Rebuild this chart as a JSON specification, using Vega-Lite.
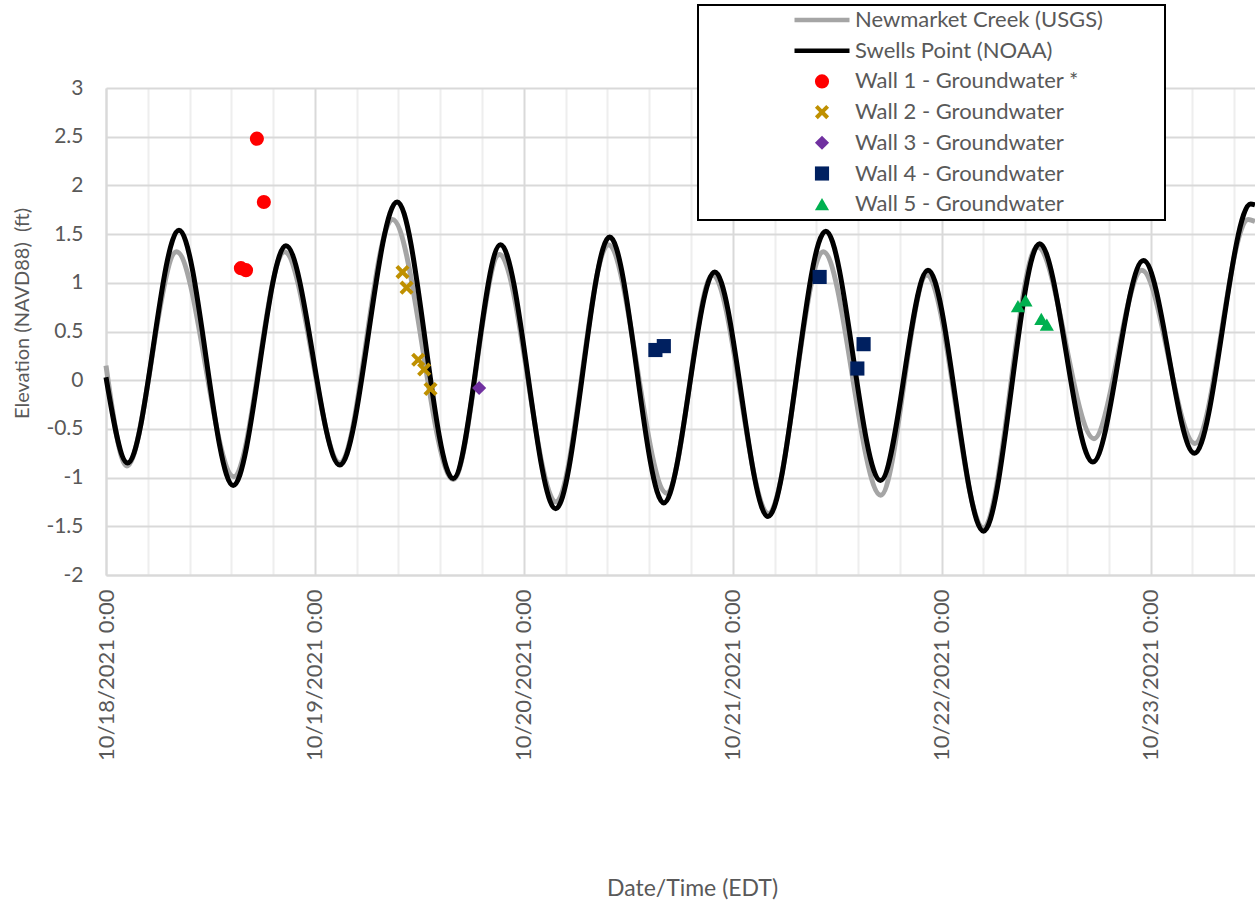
{
  "$schema": "https://vega.github.io/schema/vega-lite/v6.json",
  "width": 1149,
  "height": 487,
  "autosize": {"type": "none"},
  "padding": {"left": 106, "top": 88, "right": 0, "bottom": 330},
  "background": "white",
  "config": {
    "view": {"stroke": null},
    "font": "Lato",
    "axis": {"labelFont": "Lato", "titleFont": "Lato", "labelColor": "#595959", "titleColor": "#595959", "labelFontSize": 21, "titleFontSize": 23, "titleFontWeight": "normal"},
    "legend": {"labelFont": "Lato", "labelFontSize": 22, "labelColor": "#595959"}
  },
  "datasets": {
    "tide": [
      {"series": "Newmarket Creek (USGS)", "t": "2021-10-18T00:00Z", "v": 0.15},
      {"series": "Newmarket Creek (USGS)", "t": "2021-10-18T02:24Z", "v": -0.88},
      {"series": "Newmarket Creek (USGS)", "t": "2021-10-18T08:06Z", "v": 1.32},
      {"series": "Newmarket Creek (USGS)", "t": "2021-10-18T14:42Z", "v": -0.99},
      {"series": "Newmarket Creek (USGS)", "t": "2021-10-18T20:30Z", "v": 1.32},
      {"series": "Newmarket Creek (USGS)", "t": "2021-10-19T02:54Z", "v": -0.85},
      {"series": "Newmarket Creek (USGS)", "t": "2021-10-19T08:54Z", "v": 1.65},
      {"series": "Newmarket Creek (USGS)", "t": "2021-10-19T15:54Z", "v": -1.02},
      {"series": "Newmarket Creek (USGS)", "t": "2021-10-19T21:12Z", "v": 1.29},
      {"series": "Newmarket Creek (USGS)", "t": "2021-10-20T03:42Z", "v": -1.25},
      {"series": "Newmarket Creek (USGS)", "t": "2021-10-20T09:42Z", "v": 1.39},
      {"series": "Newmarket Creek (USGS)", "t": "2021-10-20T16:24Z", "v": -1.16},
      {"series": "Newmarket Creek (USGS)", "t": "2021-10-20T21:42Z", "v": 1.08},
      {"series": "Newmarket Creek (USGS)", "t": "2021-10-21T04:06Z", "v": -1.37},
      {"series": "Newmarket Creek (USGS)", "t": "2021-10-21T10:24Z", "v": 1.32},
      {"series": "Newmarket Creek (USGS)", "t": "2021-10-21T17:00Z", "v": -1.18},
      {"series": "Newmarket Creek (USGS)", "t": "2021-10-21T22:18Z", "v": 1.08},
      {"series": "Newmarket Creek (USGS)", "t": "2021-10-22T04:48Z", "v": -1.52},
      {"series": "Newmarket Creek (USGS)", "t": "2021-10-22T11:00Z", "v": 1.37},
      {"series": "Newmarket Creek (USGS)", "t": "2021-10-22T17:30Z", "v": -0.6},
      {"series": "Newmarket Creek (USGS)", "t": "2021-10-22T23:00Z", "v": 1.13},
      {"series": "Newmarket Creek (USGS)", "t": "2021-10-23T05:06Z", "v": -0.65},
      {"series": "Newmarket Creek (USGS)", "t": "2021-10-23T11:12Z", "v": 1.65},
      {"series": "Newmarket Creek (USGS)", "t": "2021-10-23T12:00Z", "v": 1.63},
      {"series": "Swells Point (NOAA)", "t": "2021-10-18T00:00Z", "v": 0.03},
      {"series": "Swells Point (NOAA)", "t": "2021-10-18T02:29Z", "v": -0.85},
      {"series": "Swells Point (NOAA)", "t": "2021-10-18T08:23Z", "v": 1.54},
      {"series": "Swells Point (NOAA)", "t": "2021-10-18T14:37Z", "v": -1.08},
      {"series": "Swells Point (NOAA)", "t": "2021-10-18T20:40Z", "v": 1.38},
      {"series": "Swells Point (NOAA)", "t": "2021-10-19T02:52Z", "v": -0.87},
      {"series": "Swells Point (NOAA)", "t": "2021-10-19T09:27Z", "v": 1.83},
      {"series": "Swells Point (NOAA)", "t": "2021-10-19T15:53Z", "v": -1.01},
      {"series": "Swells Point (NOAA)", "t": "2021-10-19T21:19Z", "v": 1.39},
      {"series": "Swells Point (NOAA)", "t": "2021-10-20T03:40Z", "v": -1.32},
      {"series": "Swells Point (NOAA)", "t": "2021-10-20T09:52Z", "v": 1.47},
      {"series": "Swells Point (NOAA)", "t": "2021-10-20T16:05Z", "v": -1.26},
      {"series": "Swells Point (NOAA)", "t": "2021-10-20T21:56Z", "v": 1.11},
      {"series": "Swells Point (NOAA)", "t": "2021-10-21T04:03Z", "v": -1.4},
      {"series": "Swells Point (NOAA)", "t": "2021-10-21T10:41Z", "v": 1.53},
      {"series": "Swells Point (NOAA)", "t": "2021-10-21T16:58Z", "v": -1.03},
      {"series": "Swells Point (NOAA)", "t": "2021-10-21T22:26Z", "v": 1.13},
      {"series": "Swells Point (NOAA)", "t": "2021-10-22T04:49Z", "v": -1.55},
      {"series": "Swells Point (NOAA)", "t": "2021-10-22T11:15Z", "v": 1.4},
      {"series": "Swells Point (NOAA)", "t": "2021-10-22T17:22Z", "v": -0.84},
      {"series": "Swells Point (NOAA)", "t": "2021-10-22T23:11Z", "v": 1.23},
      {"series": "Swells Point (NOAA)", "t": "2021-10-23T05:03Z", "v": -0.75},
      {"series": "Swells Point (NOAA)", "t": "2021-10-23T11:30Z", "v": 1.81},
      {"series": "Swells Point (NOAA)", "t": "2021-10-23T12:00Z", "v": 1.8}
    ],
    "wells": [
      {"series": "Wall 1 - Groundwater *", "t": "2021-10-18T15:30Z", "v": 1.15},
      {"series": "Wall 1 - Groundwater *", "t": "2021-10-18T16:05Z", "v": 1.13},
      {"series": "Wall 1 - Groundwater *", "t": "2021-10-18T17:20Z", "v": 2.48},
      {"series": "Wall 1 - Groundwater *", "t": "2021-10-18T18:08Z", "v": 1.83},
      {"series": "Wall 2 - Groundwater", "t": "2021-10-19T10:04Z", "v": 1.11},
      {"series": "Wall 2 - Groundwater", "t": "2021-10-19T10:32Z", "v": 0.95},
      {"series": "Wall 2 - Groundwater", "t": "2021-10-19T11:52Z", "v": 0.21},
      {"series": "Wall 2 - Groundwater", "t": "2021-10-19T12:33Z", "v": 0.11},
      {"series": "Wall 2 - Groundwater", "t": "2021-10-19T13:17Z", "v": -0.09},
      {"series": "Wall 3 - Groundwater", "t": "2021-10-19T18:52Z", "v": -0.08},
      {"series": "Wall 4 - Groundwater", "t": "2021-10-20T15:07Z", "v": 0.31},
      {"series": "Wall 4 - Groundwater", "t": "2021-10-20T16:05Z", "v": 0.35},
      {"series": "Wall 4 - Groundwater", "t": "2021-10-21T09:59Z", "v": 1.06},
      {"series": "Wall 4 - Groundwater", "t": "2021-10-21T14:19Z", "v": 0.12},
      {"series": "Wall 4 - Groundwater", "t": "2021-10-21T15:02Z", "v": 0.37},
      {"series": "Wall 5 - Groundwater", "t": "2021-10-22T08:46Z", "v": 0.76},
      {"series": "Wall 5 - Groundwater", "t": "2021-10-22T09:38Z", "v": 0.82},
      {"series": "Wall 5 - Groundwater", "t": "2021-10-22T11:27Z", "v": 0.63},
      {"series": "Wall 5 - Groundwater", "t": "2021-10-22T12:05Z", "v": 0.57}
    ]
  },
  "resolve": {"axis": {"x": "independent"}},
  "layer": [
    {
      "data": {"name": "tide"},
      "mark": {"type": "line", "strokeWidth": 5, "interpolate": "monotone"},
      "encoding": {
        "x": {
          "field": "t", "type": "temporal",
          "scale": {"type": "utc", "domain": [1634515200000, 1634990400000]},
          "axis": {
            "values": [1634532480000, 1634549760000, 1634567040000, 1634584320000, 1634618880000, 1634636160000, 1634653440000, 1634670720000, 1634705280000, 1634722560000, 1634739840000, 1634757120000, 1634791680000, 1634808960000, 1634826240000, 1634843520000, 1634878080000, 1634895360000, 1634912640000, 1634929920000, 1634964480000, 1634981760000],
            "orient": "top", "grid": true, "gridColor": "#eeeeee", "gridWidth": 2,
            "labels": false, "ticks": false, "domain": false, "title": null
          }
        },
        "y": {
          "field": "v", "type": "quantitative",
          "scale": {"domain": [-2, 3], "nice": false, "zero": false},
          "axis": {
            "values": [-2, -1.5, -1, -0.5, 0, 0.5, 1, 1.5, 2, 2.5, 3],
            "labelExpr": "'' + datum.value",
            "grid": true, "gridColor": "#d9d9d9", "gridWidth": 2,
            "ticks": false, "tickSize": 0, "labelPadding": 23,
            "domain": true, "domainColor": "#d9d9d9", "domainWidth": 2,
            "title": "Elevation (NAVD88)\u00a0\u00a0(ft)", "titleFontSize": 20,
            "titleX": -84, "titleY": 225, "titleAngle": 270, "titleAlign": "center", "titleBaseline": "middle"
          }
        },
        "color": {
          "field": "series", "type": "nominal",
          "scale": {
            "domain": ["Newmarket Creek (USGS)", "Swells Point (NOAA)", "Wall 1 - Groundwater *", "Wall 2 - Groundwater", "Wall 3 - Groundwater", "Wall 4 - Groundwater", "Wall 5 - Groundwater"],
            "range": ["#A5A5A5", "#000000", "#FF0000", "#BF9000", "#7030A0", "#002060", "#00B050"]
          },
          "legend": {
            "orient": "none", "legendX": 592, "legendY": -83,
            "title": "\u00a0", "titleOrient": "right", "titlePadding": 58, "titleFontSize": 4,
            "fillColor": "white", "padding": 4, "rowPadding": 8.7,
            "symbolSize": 3025, "symbolOffset": 109, "labelOffset": 22, "labelLimit": 600,
            "encode": {
              "legend": {"update": {"stroke": {"value": "black"}, "strokeWidth": {"value": 2}}},
              "symbols": {"update": {
                "shape": {"scale": "shape", "field": "value"},
                "fill": {"scale": "color", "field": "value"},
                "stroke": {"scale": "color", "field": "value"},
                "strokeWidth": {"signal": "datum.index < 2 ? 4.5 : 0"},
                "size": {"signal": "datum.index < 2 ? 3025 : 200"},
                "opacity": {"value": 1}
              }}
            }
          }
        }
      }
    },
    {
      "data": {"name": "wells"},
      "mark": {"type": "point", "filled": true, "size": 200, "opacity": 1},
      "encoding": {
        "x": {
          "field": "t", "type": "temporal",
          "scale": {"type": "utc", "domain": [1634515200000, 1634990400000]},
          "axis": {
            "values": [1634515200000, 1634601600000, 1634688000000, 1634774400000, 1634860800000, 1634947200000],
            "orient": "bottom",
            "labelExpr": "utcFormat(datum.value, '%-m/%-d/%Y %-H:%M')",
            "labelFontSize": 22,
            "labelAngle": 270, "labelPadding": 14, "ticks": false, "tickSize": 0,
            "grid": true, "gridColor": "#d9d9d9", "gridWidth": 2,
            "domain": true, "domainColor": "#d9d9d9", "domainWidth": 2,
            "title": "Date/Time (EDT)", "titleX": 586, "titleY": 313, "titleAlign": "center", "titleBaseline": "middle", "titleAnchor": null
          }
        },
        "y": {"field": "v", "type": "quantitative"},
        "color": {"field": "series", "type": "nominal"},
        "shape": {
          "field": "series", "type": "nominal",
          "scale": {
            "domain": ["Newmarket Creek (USGS)", "Swells Point (NOAA)", "Wall 1 - Groundwater *", "Wall 2 - Groundwater", "Wall 3 - Groundwater", "Wall 4 - Groundwater", "Wall 5 - Groundwater"],
            "range": ["stroke", "stroke", "circle", "M-1,-0.6L-0.6,-1L0,-0.4L0.6,-1L1,-0.6L0.4,0L1,0.6L0.6,1L0,0.4L-0.6,1L-1,0.6L-0.4,0Z", "diamond", "square", "triangle-up"]
          },
          "legend": null
        }
      }
    }
  ]
}
